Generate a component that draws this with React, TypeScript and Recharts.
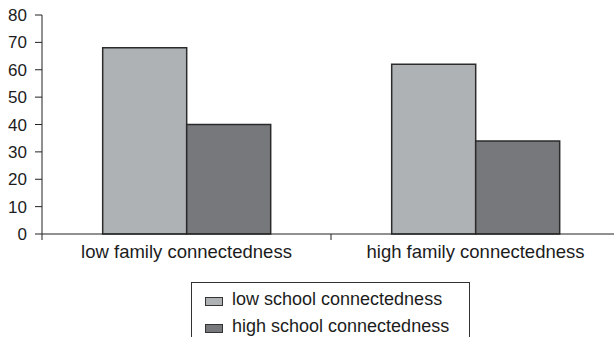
import { BarChart, Bar, XAxis, YAxis, Legend } from 'recharts'

const categories = ['low family connectedness', 'high family connectedness']
const lowSchool = [68, 62]
const highSchool = [40, 34]
const yTicks = [0, 10, 20, 30, 40, 50, 60, 70, 80]
const seriesOrder = ['low', 'high']

const data = categories.map((name, i) => ({
  name,
  low: lowSchool[i],
  high: highSchool[i],
}))

const FONT = '"Liberation Sans", Arial, sans-serif'
const INK = '#1c1c1c'
const LABEL_GAP = 11

// category label plus a small tick mark on the band's left edge (Excel style)
const CategoryTick = ({ x, y, payload }: any) => {
  const half = payload?.offset ?? 0
  const axisY = y - LABEL_GAP
  return (
    <g>
      <line x1={x - half} x2={x - half} y1={axisY} y2={axisY + 6} stroke="#222" />
      <text x={x} y={y} dy="0.71em" textAnchor="middle" fill={INK} fontSize={18.5} fontFamily={FONT}>
        {payload.value}
      </text>
    </g>
  )
}

// boxed legend in the Excel style, sitting under the axis
const LegendBox = ({ payload }: any) => {
  const items = [...(payload || [])].sort(
    (a: any, b: any) => seriesOrder.indexOf(a.dataKey) - seriesOrder.indexOf(b.dataKey)
  )
  return (
    <div
      style={{
        width: 279,
        height: 70,
        boxSizing: 'border-box',
        border: '1px solid #333',
        padding: '3px 0 0 13px',
        fontFamily: FONT,
        fontSize: 18,
        color: INK,
        background: '#fff',
      }}
    >
      {items.map((p: any) => (
        <div key={p.value} style={{ display: 'flex', alignItems: 'center', height: 27, lineHeight: '27px' }}>
          <span
            style={{
              display: 'inline-block',
              width: 18,
              height: 9,
              boxSizing: 'border-box',
              border: '1px solid #333',
              background: p.color,
              marginRight: 9,
              position: 'relative',
              top: 2,
            }}
          />
          <span>{p.value}</span>
        </div>
      ))}
    </div>
  )
}

export default function App() {
  return (
    <div style={{ position: 'absolute', left: 0, top: 0, width: 614, height: 337, overflow: 'hidden', background: '#fff' }}>
      <BarChart
        width={630}
        height={337}
        data={data}
        margin={{ top: 15, right: 10, left: 0, bottom: 73 }}
        barCategoryGap="21%"
        barGap={0}
      >
        <XAxis
          dataKey="name"
          height={30}
          stroke="#222"
          tickLine={false}
          tickSize={0}
          tickMargin={LABEL_GAP}
          interval={0}
          tick={<CategoryTick />}
        />
        <YAxis
          width={42}
          domain={[0, 80]}
          ticks={yTicks}
          interval={0}
          tickSize={7}
          tickMargin={8}
          stroke="#222"
          tick={{ fill: INK, fontSize: 17, fontFamily: FONT }}
        />
        <Legend
          layout="vertical"
          align="center"
          verticalAlign="middle"
          itemSorter={null}
          wrapperStyle={{ top: 282, left: 191, width: 279 }}
          content={<LegendBox />}
        />
        <Bar dataKey="low" name="low school connectedness" fill="#afb2b5" stroke="#2b2b2b" strokeWidth={1.5} isAnimationActive={false} />
        <Bar dataKey="high" name="high school connectedness" fill="#77787c" stroke="#2b2b2b" strokeWidth={1.5} isAnimationActive={false} />
      </BarChart>
    </div>
  )
}
